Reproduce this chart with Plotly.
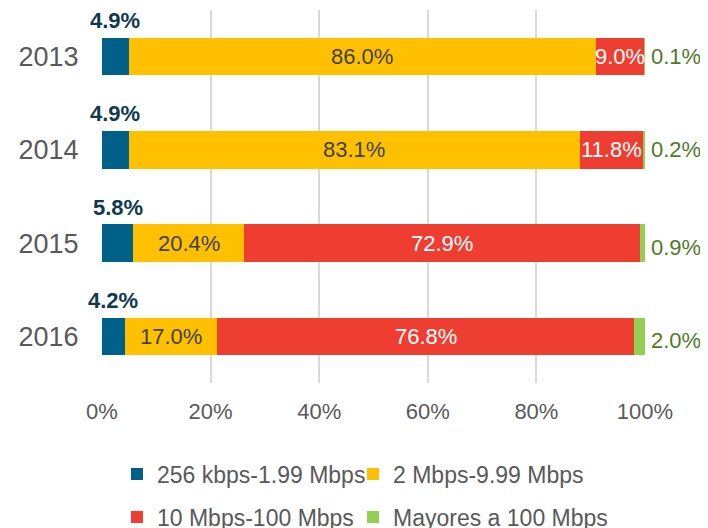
import plotly.graph_objects as go

years = ["2013", "2014", "2015", "2016"]
s_low = [4.9, 4.9, 5.8, 4.2]
s_mid = [86.0, 83.1, 20.4, 17.0]
s_high = [9.0, 11.8, 72.9, 76.8]
s_top = [0.1, 0.2, 0.9, 2.0]
names = ["256 kbps-1.99 Mbps", "2 Mbps-9.99 Mbps", "10 Mbps-100 Mbps", "Mayores a 100 Mbps"]
colors = ["#006188", "#FFC000", "#EE3D31", "#92D050"]
x_ticks = [0, 20, 40, 60, 80, 100]
x_tick_labels = ["0%", "20%", "40%", "60%", "80%", "100%"]

FONT = "Liberation Sans"
series = [s_low, s_mid, s_high, s_top]
legend_ids = ["legend", "legend2", "legend3", "legend4"]
legend_pos = [(0.1557, 0.1038), (0.4929, 0.1038), (0.1557, 0.0212), (0.4929, 0.0212)]

fig = go.Figure()
for name, vals, col, lg in zip(names, series, colors, legend_ids):
    fig.add_trace(go.Bar(
        y=years, x=vals, name=name, orientation="h",
        marker=dict(color=col, line=dict(width=0)),
        legend=lg, showlegend=True, hoverinfo="skip",
    ))

ann = []
for i, yr in enumerate(years):
    a, b, c, d = s_low[i], s_mid[i], s_high[i], s_top[i]
    end = min(round(a + b + c + d, 6), 100)
    # y given as category index i (category axis)
    ann.append(dict(x=a / 2, y=i, text=f"{a:.1f}%", showarrow=False, yshift=36,
                    font=dict(family=FONT, size=22, color="#0E3A4F", weight="bold")))
    ann.append(dict(x=a + b / 2, y=i, text=f"{b:.1f}%", showarrow=False,
                    font=dict(family=FONT, size=22, color="#404040")))
    ann.append(dict(x=a + b + c / 2, y=i, text=f"{c:.1f}%", showarrow=False,
                    font=dict(family=FONT, size=22, color="#FFFFFF")))
    ann.append(dict(x=end, y=i, text=f"{d:.1f}%", showarrow=False,
                    xanchor="left", xshift=4, yshift=-4 if i >= 2 else 0,
                    font=dict(family=FONT, size=22, color="#4E7A27")))

layout_legends = {}
for lg, (lx, ly) in zip(legend_ids, legend_pos):
    layout_legends[lg] = dict(orientation="h", x=lx, xref="container", xanchor="left",
                              y=ly, yref="container", yanchor="middle",
                              bgcolor="rgba(0,0,0,0)",
                              font=dict(size=23, color="#595959"),
                              itemclick=False, itemdoubleclick=False)

fig.update_layout(
    width=700, height=520, showlegend=True,
    margin=dict(l=94, r=63, t=2, b=145, autoexpand=False),
    barmode="stack", bargap=0.6,
    plot_bgcolor="white", paper_bgcolor="white",
    font=dict(family=FONT, color="#595959"),
    annotations=ann,
    xaxis=dict(range=[0, 100], tickvals=x_ticks, ticktext=x_tick_labels,
               showgrid=True, gridcolor="#D9D9D9", gridwidth=2, zeroline=False,
               showline=False, ticks="", tickfont=dict(size=22, color="#595959"),
               ticklabelstandoff=13, fixedrange=True),
    yaxis=dict(type="category", categoryarray=years, categoryorder="array",
               range=[3.5, -0.5], ticks="", showline=False, showgrid=False,
               tickfont=dict(size=27, color="#595959"), ticksuffix="   "),
    **layout_legends,
)
fig.write_html("out.html")
